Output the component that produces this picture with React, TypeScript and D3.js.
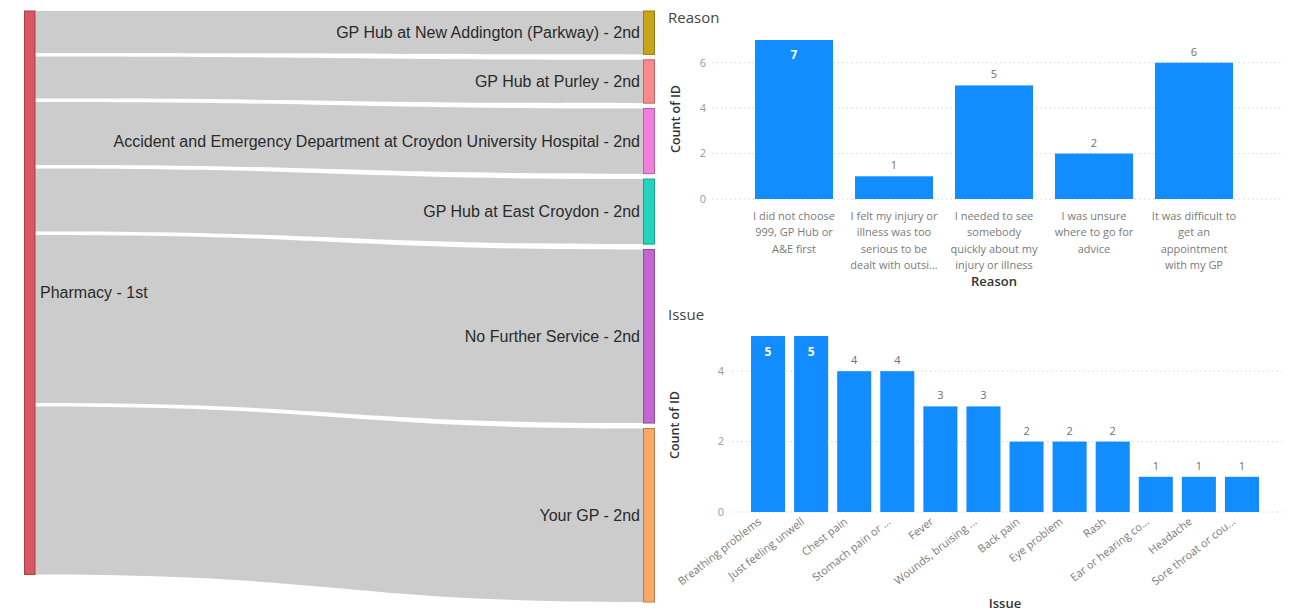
import React from 'react';
import * as d3 from 'd3';

// Sankey: Pharmacy - 1st -> second service
const sankeySource = 'Pharmacy - 1st';
const sankeyTargets = [
  'GP Hub at New Addington (Parkway) - 2nd',
  'GP Hub at Purley - 2nd',
  'Accident and Emergency Department at Croydon University Hospital - 2nd',
  'GP Hub at East Croydon - 2nd',
  'No Further Service - 2nd',
  'Your GP - 2nd',
];
const sankeyValues = [2, 2, 3, 3, 8, 8];
const sankeyColors = ['#C9A31A', '#FB8A8A', '#F27FDD', '#22D6BD', '#C466D0', '#F9A866'];

// Reason chart
const reasonLines = [
  ['I did not choose', '999, GP Hub or', 'A&E first'],
  ['I felt my injury or', 'illness was too', 'serious to be', 'dealt with outsi...'],
  ['I needed to see', 'somebody', 'quickly about my', 'injury or illness'],
  ['I was unsure', 'where to go for', 'advice'],
  ['It was difficult to', 'get an', 'appointment', 'with my GP'],
];
const reasonValues = [7, 1, 5, 2, 6];
const reasonTicks = [0, 2, 4, 6];

// Issue chart
const issueCategories = [
  'Breathing problems',
  'Just feeling unwell',
  'Chest pain',
  'Stomach pain or ...',
  'Fever',
  'Wounds, bruising ...',
  'Back pain',
  'Eye problem',
  'Rash',
  'Ear or hearing co...',
  'Headache',
  'Sore throat or cou...',
];
const issueValues = [5, 5, 4, 4, 3, 3, 2, 2, 2, 1, 1, 1];
const issueTicks = [0, 2, 4];

const BLUE = '#118DFF';
const UI_FONT = '"Segoe UI", "Open Sans", sans-serif';
const SK_FONT = '"Liberation Sans", Arial, sans-serif';

const darker = (c: string) => d3.color(c)!.darker(0.8).formatHex();

const Sankey: React.FC = () => {
  const x0 = 35;
  const x1 = 643;
  const top = 11;
  const total = d3.sum(sankeyValues);
  const gapL = 3.5;
  const gapR = 5.4;
  const kL = d3.scaleLinear().domain([0, total]).range([0, 546]);
  const kR = d3.scaleLinear().domain([0, total]).range([0, 564]);

  let accL = top;
  let accR = top;
  const links = sankeyValues.map((v, i) => {
    const l0 = accL;
    const l1 = l0 + kL(v);
    accL = l1 + gapL;
    const r0 = accR;
    const r1 = r0 + kR(v);
    accR = r1 + gapR;
    return { i, l0, l1, r0, r1 };
  });
  const srcBottom = accL - gapL;
  const xm = (x0 + x1) / 2;

  return (
    <g>
      {links.map(d => (
        <path
          key={d.i}
          d={`M${x0},${d.l0} C${xm},${d.l0} ${xm},${d.r0} ${x1},${d.r0} L${x1},${d.r1} C${xm},${d.r1} ${xm},${d.l1} ${x0},${d.l1} Z`}
          fill="#CCCCCC"
        />
      ))}
      <rect x={24.5} y={top} width={10.5} height={srcBottom - top} fill="#DA5662" stroke={darker('#DA5662')} strokeWidth={1} />
      {links.map(d => (
        <rect
          key={d.i}
          x={643.5}
          y={d.r0}
          width={11}
          height={d.r1 - d.r0}
          fill={sankeyColors[d.i]}
          stroke={darker(sankeyColors[d.i])}
          strokeWidth={1}
        />
      ))}
      <text x={40} y={(top + srcBottom) / 2} dy="0.35em" fontFamily={SK_FONT} fontSize={16} fill="#2a2a2a">
        {sankeySource}
      </text>
      {links.map(d => (
        <text
          key={d.i}
          x={640}
          y={(d.r0 + d.r1) / 2}
          dy="0.35em"
          textAnchor="end"
          fontFamily={SK_FONT}
          fontSize={16}
          fill="#2a2a2a"
        >
          {sankeyTargets[d.i]}
        </text>
      ))}
    </g>
  );
};

const ReasonChart: React.FC = () => {
  const x = d3.scaleBand<number>().domain(d3.range(reasonValues.length)).range([744, 1244]).paddingInner(0.22).paddingOuter(0.11);
  const y = d3.scaleLinear().domain([0, 7]).range([199, 40]);
  return (
    <g fontFamily={UI_FONT}>
      <text x={668} y={23} fontSize={15} fill="#444">Reason</text>
      {reasonTicks.map(t => (
        <g key={t}>
          <line x1={712} x2={1282} y1={y(t)} y2={y(t)} stroke="#D6D6D6" strokeDasharray="1.5,3" />
          <text x={706} y={y(t)} dy="0.35em" textAnchor="end" fontSize={11} fill="#9A9A9A">{t}</text>
        </g>
      ))}
      {reasonValues.map((v, i) => {
        const bx = x(i)!;
        const cx = bx + x.bandwidth() / 2;
        const inside = v === d3.max(reasonValues);
        return (
          <g key={i}>
            <rect x={bx} y={y(v)} width={x.bandwidth()} height={y(0) - y(v)} fill={BLUE} />
            <text
              x={cx}
              y={inside ? y(v) + 19 : y(v) - 7}
              textAnchor="middle"
              fontSize={inside ? 12 : 11}
              fontWeight={inside ? 700 : 400}
              fill={inside ? '#FFFFFF' : '#707070'}
            >
              {v}
            </text>
            {reasonLines[i].map((ln, j) => (
              <text key={j} x={cx} y={220 + j * 16.3} textAnchor="middle" fontSize={11} fill="#7A7A7A">{ln}</text>
            ))}
          </g>
        );
      })}
      <text x={(744 + 1244) / 2} y={286} textAnchor="middle" fontSize={13} fontWeight={600} fill="#333">Reason</text>
      <text transform={`translate(680,119) rotate(-90)`} textAnchor="middle" fontSize={12.5} fontWeight={600} fill="#333">Count of ID</text>
    </g>
  );
};

const IssueChart: React.FC = () => {
  const x = d3.scaleBand<string>().domain(issueCategories).range([746.5, 1263.5]).paddingInner(0.21).paddingOuter(0.105);
  const y = d3.scaleLinear().domain([0, 5]).range([512, 336]);
  return (
    <g fontFamily={UI_FONT}>
      <text x={668} y={320} fontSize={15} fill="#444">Issue</text>
      {issueTicks.map(t => (
        <g key={t}>
          <line x1={732} x2={1282} y1={y(t)} y2={y(t)} stroke="#D6D6D6" strokeDasharray="1.5,3" />
          <text x={724} y={y(t)} dy="0.35em" textAnchor="end" fontSize={11} fill="#9A9A9A">{t}</text>
        </g>
      ))}
      {issueCategories.map((c, i) => {
        const v = issueValues[i];
        const bx = x(c)!;
        const cx = bx + x.bandwidth() / 2;
        const inside = v === d3.max(issueValues);
        return (
          <g key={c}>
            <rect x={bx} y={y(v)} width={x.bandwidth()} height={y(0) - y(v)} fill={BLUE} />
            <text
              x={cx}
              y={inside ? y(v) + 20 : y(v) - 7}
              textAnchor="middle"
              fontSize={inside ? 12 : 11}
              fontWeight={inside ? 700 : 400}
              fill={inside ? '#FFFFFF' : '#707070'}
            >
              {v}
            </text>
            <text
              transform={`translate(${cx - 6},${523}) rotate(-38)`}
              textAnchor="end"
              fontSize={11}
              fill="#7A7A7A"
            >
              {c}
            </text>
          </g>
        );
      })}
      <text x={(746.5 + 1263.5) / 2} y={608} textAnchor="middle" fontSize={13} fontWeight={600} fill="#333">Issue</text>
      <text transform={`translate(679,425) rotate(-90)`} textAnchor="middle" fontSize={12.5} fontWeight={600} fill="#333">Count of ID</text>
    </g>
  );
};

const App: React.FC = () => (
  <svg
    width={1314}
    height={612}
    viewBox="0 0 1314 612"
    style={{ position: 'absolute', left: 0, top: 0, display: 'block', background: '#FFFFFF' }}
  >
    <Sankey />
    <ReasonChart />
    <IssueChart />
  </svg>
);

export default App;
